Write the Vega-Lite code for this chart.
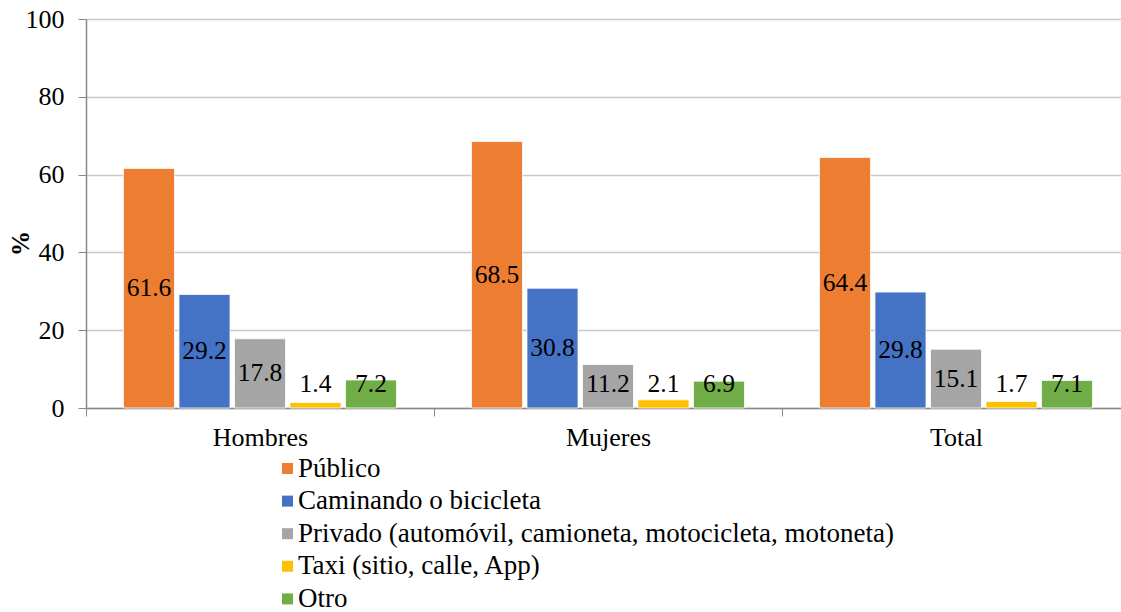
{
  "$schema": "https://vega.github.io/schema/vega-lite/v6.json",
  "width": 1044,
  "height": 389,
  "autosize": {"type": "none"},
  "padding": {"left": 86, "top": 19, "right": 10, "bottom": 210},
  "background": "white",
  "config": {
    "view": {"stroke": null},
    "font": "Liberation Serif"
  },
  "data": {
    "values": [
      {"grupo": "Hombres", "modo": "Público", "valor": 61.6},
      {"grupo": "Hombres", "modo": "Caminando o bicicleta", "valor": 29.2},
      {"grupo": "Hombres", "modo": "Privado (automóvil, camioneta, motocicleta, motoneta)", "valor": 17.8},
      {"grupo": "Hombres", "modo": "Taxi (sitio, calle, App)", "valor": 1.4},
      {"grupo": "Hombres", "modo": "Otro", "valor": 7.2},
      {"grupo": "Mujeres", "modo": "Público", "valor": 68.5},
      {"grupo": "Mujeres", "modo": "Caminando o bicicleta", "valor": 30.8},
      {"grupo": "Mujeres", "modo": "Privado (automóvil, camioneta, motocicleta, motoneta)", "valor": 11.2},
      {"grupo": "Mujeres", "modo": "Taxi (sitio, calle, App)", "valor": 2.1},
      {"grupo": "Mujeres", "modo": "Otro", "valor": 6.9},
      {"grupo": "Total", "modo": "Público", "valor": 64.4},
      {"grupo": "Total", "modo": "Caminando o bicicleta", "valor": 29.8},
      {"grupo": "Total", "modo": "Privado (automóvil, camioneta, motocicleta, motoneta)", "valor": 15.1},
      {"grupo": "Total", "modo": "Taxi (sitio, calle, App)", "valor": 1.7},
      {"grupo": "Total", "modo": "Otro", "valor": 7.1}
    ]
  },
  "encoding": {
    "x": {
      "field": "grupo",
      "type": "nominal",
      "sort": ["Hombres", "Mujeres", "Total"],
      "scale": {"paddingInner": 0, "paddingOuter": 0},
      "axis": {
        "title": null,
        "labelAngle": 0,
        "labelFont": "Liberation Serif",
        "labelFontSize": 26,
        "labelColor": "black",
        "labelPadding": 8,
        "tickBand": "extent",
        "tickSize": 8,
        "tickColor": "#898989",
        "domainColor": "#898989",
        "domainWidth": 1.5,
        "grid": false
      }
    },
    "xOffset": {
      "field": "modo",
      "type": "nominal",
      "sort": ["Público", "Caminando o bicicleta", "Privado (automóvil, camioneta, motocicleta, motoneta)", "Taxi (sitio, calle, App)", "Otro"],
      "scale": {"paddingInner": 0.08, "paddingOuter": 0.675}
    }
  },
  "layer": [
    {
      "mark": {"type": "bar", "stroke": "white", "strokeWidth": 0.8},
      "encoding": {
        "y": {
          "field": "valor",
          "type": "quantitative",
          "scale": {"domain": [0, 100]},
          "axis": {
            "title": "%",
            "titleFont": "Liberation Serif",
            "titleFontSize": 25,
            "titleFontWeight": "bold",
            "titleColor": "black",
            "titleAngle": 270,
            "titleX": -66,
            "titleY": 224,
            "titleAlign": "center",
            "titleBaseline": "middle",
            "values": [0, 20, 40, 60, 80, 100],
            "labelFont": "Liberation Serif",
            "labelFontSize": 26,
            "labelColor": "black",
            "labelPadding": 14,
            "tickSize": 8,
            "tickColor": "#898989",
            "domainColor": "#898989",
            "domainWidth": 1.5,
            "gridColor": "#c8c8c8",
            "gridWidth": 1.5
          }
        },
        "color": {
          "field": "modo",
          "type": "nominal",
          "sort": ["Público", "Caminando o bicicleta", "Privado (automóvil, camioneta, motocicleta, motoneta)", "Taxi (sitio, calle, App)", "Otro"],
          "scale": {
            "domain": ["Público", "Caminando o bicicleta", "Privado (automóvil, camioneta, motocicleta, motoneta)", "Taxi (sitio, calle, App)", "Otro"],
            "range": ["#ED7D31", "#4472C4", "#A5A5A5", "#FFC000", "#70AD47"]
          },
          "legend": {
            "title": null,
            "orient": "none",
            "legendX": 188,
            "legendY": 436,
            "direction": "vertical",
            "symbolType": "square",
            "symbolSize": 121,
            "symbolStrokeWidth": 0,
            "labelFont": "Liberation Serif",
            "labelFontSize": 27,
            "labelColor": "black",
            "labelOffset": -3,
            "labelLimit": 800,
            "rowPadding": 4.6
          }
        }
      }
    },
    {
      "transform": [{"calculate": "max(datum.valor / 2, 6.2)", "as": "pos"}],
      "mark": {"type": "text", "font": "Liberation Serif", "fontSize": 25.5, "baseline": "middle", "align": "center", "color": "black"},
      "encoding": {
        "y": {"field": "pos", "type": "quantitative", "scale": {"domain": [0, 100]}},
        "text": {"field": "valor", "type": "quantitative", "format": ".1f"}
      }
    }
  ]
}
